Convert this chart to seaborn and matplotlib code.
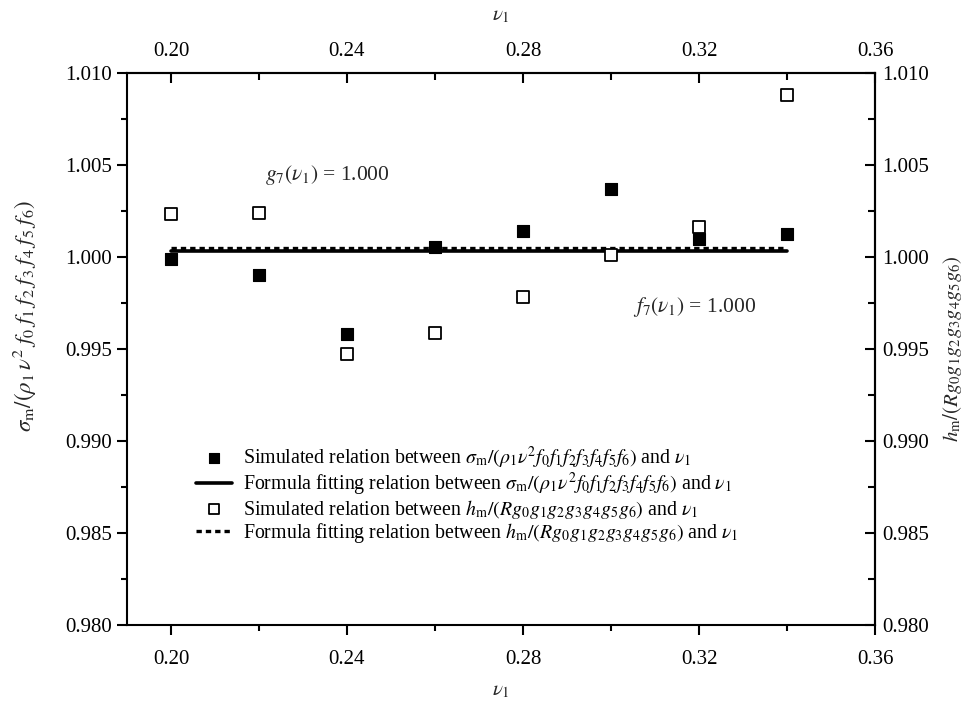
import matplotlib
matplotlib.use("Agg")
import matplotlib.pyplot as plt
import seaborn as sns
import pandas as pd
from matplotlib.ticker import MultipleLocator, FormatStrFormatter

# ---- data ----
nu1 = [0.20, 0.22, 0.24, 0.26, 0.28, 0.30, 0.32, 0.34]
sigma_sim = [0.99987, 0.99900, 0.99580, 1.00054, 1.00141, 1.00368, 1.00100, 1.00123]
h_sim = [1.00235, 1.00241, 0.99471, 0.99589, 0.99783, 1.00013, 1.00163, 1.00880]
fit_x = [0.20, 0.34]
sigma_fit = [1.00031, 1.00031]
h_fit = [1.00049, 1.00049]
x_ticks = [0.20, 0.24, 0.28, 0.32, 0.36]
x_minor = [0.22, 0.26, 0.30, 0.34]
y_ticks = [0.980, 0.985, 0.990, 0.995, 1.000, 1.005, 1.010]
y_minor = [0.9825, 0.9875, 0.9925, 0.9975, 1.0025, 1.0075]

lab_sig_sim = r"Simulated relation between $\sigma_{\rm m}/(\rho_1 \nu^2 f_0 f_1 f_2 f_3 f_4 f_5 f_6)$ and $\nu_1$"
lab_sig_fit = r"Formula fitting relation between $\sigma_{\rm m}/(\rho_1 \nu^2 f_0 f_1 f_2 f_3 f_4 f_5 f_6)$ and $\nu_1$"
lab_h_sim = r"Simulated relation between $h_{\rm m}/(R g_0 g_1 g_2 g_3 g_4 g_5 g_6)$ and $\nu_1$"
lab_h_fit = r"Formula fitting relation between $h_{\rm m}/(R g_0 g_1 g_2 g_3 g_4 g_5 g_6)$ and $\nu_1$"

sns.set_theme(style="ticks")
plt.rcParams["font.family"] = ["Liberation Serif", "DejaVu Serif"]
plt.rcParams["mathtext.fontset"] = "stix"

TICK_FS = 15

fig = plt.figure(figsize=(9.64, 7.07), dpi=100)
ax = fig.add_axes([0.1317, 0.116, 0.776, 0.7807])

df_sim = pd.DataFrame({"nu": nu1, "sigma": sigma_sim, "h": h_sim})
df_fit = pd.DataFrame({"nu": fit_x, "sigma": sigma_fit, "h": h_fit})

sns.scatterplot(data=df_sim, x="nu", y="sigma", marker="s", s=80, color="black",
                edgecolor="black", linewidth=0.8, ax=ax, label=lab_sig_sim, zorder=3)
sns.lineplot(data=df_fit, x="nu", y="sigma", color="black", linewidth=2.6,
             ax=ax, label=lab_sig_fit, zorder=2)
sns.scatterplot(data=df_sim, x="nu", y="h", marker="s", s=80, facecolor="white",
                edgecolor="black", linewidth=1.3, ax=ax, label=lab_h_sim, zorder=3)
sns.lineplot(data=df_fit, x="nu", y="h", color="black", linewidth=2.4,
             ax=ax, label=lab_h_fit, zorder=2)
ax.lines[-1].set_dashes((1.6, 1.2))

ax.set_xlim(0.19, 0.36)
ax.set_ylim(0.980, 1.010)
ax.set_xticks(x_ticks)
ax.set_xticks(x_minor, minor=True)
ax.set_yticks(y_ticks)
ax.set_yticks(y_minor, minor=True)
ax.xaxis.set_major_formatter(FormatStrFormatter("%.2f"))
ax.yaxis.set_major_formatter(FormatStrFormatter("%.3f"))

for sp in ax.spines.values():
    sp.set_visible(True)
    sp.set_linewidth(1.5)
    sp.set_color("black")

ax.tick_params(which="both", direction="out", colors="black", labelsize=TICK_FS,
               top=False, right=False, width=1.5)
ax.tick_params(which="major", length=7)
ax.tick_params(which="minor", length=4)
ax.tick_params(axis="x", which="both", pad=11)
ax.tick_params(axis="y", which="both", pad=4)

ax.set_xlabel(r"$\nu_1$", fontsize=15, labelpad=9)
ax.set_ylabel(r"$\sigma_{\rm m}/(\rho_1\,\nu^2\;f_0\;f_1\;f_2\;f_3\;f_4\;f_5\;f_6)$", fontsize=16.5)
ax.yaxis.set_label_coords(-0.118, 0.56)

# top axis
secx = ax.secondary_xaxis("top")
secx.set_xticks(x_ticks)
secx.set_xticks(x_minor, minor=True)
secx.xaxis.set_major_formatter(FormatStrFormatter("%.2f"))
secx.tick_params(which="both", direction="in", labelsize=TICK_FS, width=1.5, colors="black", pad=9)
secx.tick_params(which="major", length=7)
secx.tick_params(which="minor", length=5)
secx.set_xlabel(r"$\nu_1$", fontsize=15, labelpad=15)
secx.spines["top"].set_linewidth(1.5)

# right axis
secy = ax.secondary_yaxis("right")
secy.set_yticks(y_ticks)
secy.set_yticks(y_minor, minor=True)
secy.yaxis.set_major_formatter(FormatStrFormatter("%.3f"))
secy.tick_params(which="both", direction="in", labelsize=TICK_FS, width=1.5, colors="black", pad=5)
secy.tick_params(which="major", length=7)
secy.tick_params(which="minor", length=5)
secy.set_ylabel(r"$h_{\rm m}/(R g_0 g_1 g_2 g_3 g_4 g_5 g_6)$", fontsize=15, labelpad=9)
secy.spines["right"].set_linewidth(1.5)

ax.text(0.2214, 1.00446, r"$g_7(\nu_1)$ = 1.000", fontsize=15.5, va="center", ha="left")
ax.text(0.305, 0.99728, r"$f_7(\nu_1)$ = 1.000", fontsize=15.5, va="center", ha="left")

leg = ax.legend(loc="upper left", bbox_to_anchor=(0.092, 0.327), frameon=False,
                fontsize=14.3, handlelength=1.8, handletextpad=0.6, labelspacing=0.0,
                borderaxespad=0, borderpad=0, markerscale=0.8)
for t in leg.get_texts():
    t.set_color("black")

fig.savefig("out.png", dpi=100, facecolor="white")
